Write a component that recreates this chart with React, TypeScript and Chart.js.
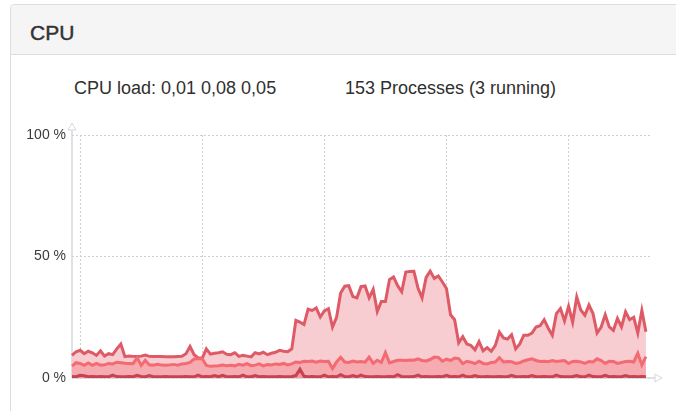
import React, { useEffect, useRef } from 'react';
import { Chart, registerables } from 'chart.js';

Chart.register(...registerables);

const PANEL_TITLE = 'CPU';
const LOAD_AVG = ['0,01', '0,08', '0,05'];
const PROCESS_COUNT = 153;
const RUNNING_COUNT = 3;
const Y_TICKS = [0, 50, 100];

// Stacked levels (cumulative %), one sample every 2 s
const LEVEL_BOTTOM = [
  0.6, 0.5, 1.1, 0.9, 0.5, 0.6, 0.5, 0.6, 0.5, 0.5,
  1.2, 0.6, 0.5, 0.5, 0.6, 0.5, 1.1, 0.6, 0.5, 1.0,
  0.5, 0.5, 0.5, 0.6, 0.5, 0.5, 0.5, 0.5, 0.6, 0.5,
  0.5, 1.2, 0.5, 0.6, 0.5, 1.0, 0.5, 1.1, 0.5, 0.5,
  0.6, 0.5, 1.2, 0.5, 0.5, 1.0, 0.5, 0.6, 0.5, 0.5,
  0.5, 0.6, 0.5, 0.5, 0.6, 1.0, 3.6, 0.7, 0.5, 0.6,
  0.5, 0.5, 1.2, 0.5, 0.6, 0.5, 1.4, 0.6, 0.5, 1.0,
  0.5, 1.2, 0.6, 0.5, 0.5, 0.6, 0.5, 0.5, 0.6, 0.5,
  1.4, 0.6, 0.5, 0.5, 0.6, 1.2, 0.5, 0.6, 0.5, 0.5,
  0.6, 0.5, 1.1, 0.5, 0.6, 0.5, 1.2, 0.5, 0.5, 1.0,
  0.5, 0.5, 0.6, 0.5, 0.5, 0.6, 0.5, 0.5, 1.1, 0.5,
  0.5, 0.6, 0.5, 1.0, 0.5, 0.5, 0.6, 0.5, 0.5, 1.2,
  0.6, 0.5, 0.5, 0.6, 1.0, 0.5, 0.5, 1.2, 0.6, 0.5,
  0.5, 1.1, 0.5, 0.6, 0.5, 0.5, 1.0, 0.5, 0.6, 0.5,
  0.6, 0.5,
];

const LEVEL_MIDDLE = [
  4.9, 6.3, 6.0, 5.2, 6.2, 5.2, 6.0, 5.3, 5.4, 6.0,
  5.8, 6.5, 6.3, 6.1, 6.0, 5.9, 8.4, 5.2, 7.3, 5.4,
  5.3, 5.6, 5.3, 5.2, 5.4, 5.6, 5.3, 5.8, 6.0, 6.4,
  7.8, 7.9, 7.9, 5.2, 4.8, 4.9, 5.0, 5.3, 5.0, 5.2,
  5.0, 5.6, 5.3, 5.9, 5.1, 5.3, 5.8, 5.0, 5.5, 5.4,
  5.8, 5.6, 6.0, 5.4, 5.8, 6.6, 6.4, 6.9, 6.8, 7.0,
  6.5, 7.0, 6.8, 6.9, 3.9, 6.6, 8.5, 6.6, 6.4, 7.0,
  6.6, 6.8, 6.5, 8.6, 6.0, 7.3, 6.4, 10.5, 6.2, 6.8,
  7.3, 7.3, 7.2, 7.4, 7.3, 7.9, 7.2, 7.0, 7.6, 8.6,
  8.5, 6.9, 7.8, 7.2, 8.2, 8.0, 5.9, 6.9, 6.5, 5.9,
  6.9, 6.0, 5.8, 6.4, 6.6, 8.4, 6.6, 6.8, 6.7, 6.0,
  6.3, 7.0, 7.5, 7.9, 7.2, 6.8, 6.9, 6.7, 7.2, 6.8,
  7.0, 7.2, 6.0, 6.8, 6.9, 6.6, 6.0, 6.8, 6.6, 7.9,
  7.2, 6.0, 6.9, 6.8, 6.0, 6.4, 6.8, 6.9, 6.6, 10.2,
  5.4, 8.8,
];

const LEVEL_TOP = [
  9.3, 10.8, 11.4, 10.0, 11.0, 10.4, 9.3, 11.2, 9.0, 10.0,
  9.6, 12.0, 14.0, 8.8, 9.0, 8.9, 8.8, 9.0, 9.4, 8.9,
  8.8, 8.8, 8.8, 8.7, 8.7, 8.7, 8.8, 8.9, 10.0, 13.0,
  9.6, 8.3, 8.2, 12.0, 9.8, 10.2, 10.4, 10.8, 9.8, 9.6,
  10.4, 8.9, 9.3, 9.0, 8.7, 10.4, 9.9, 10.6, 9.6, 10.2,
  10.6, 11.4, 11.0, 10.8, 12.0, 23.7, 23.0, 22.0, 28.3, 27.8,
  28.8, 25.1, 27.6, 28.5, 21.0, 25.0, 35.0, 37.8, 38.0, 33.5,
  33.0, 37.6, 37.9, 33.0, 36.5, 27.4, 31.5, 31.5, 40.5, 41.6,
  38.0, 35.5, 43.6, 43.8, 43.9, 37.0, 33.0, 41.4, 44.0, 41.0,
  42.0, 39.5, 36.8, 26.0, 24.0, 14.5, 17.0, 14.0, 13.4, 11.6,
  15.0, 11.2, 12.5, 11.0, 13.4, 18.9, 16.5, 16.0, 17.8, 12.0,
  14.0, 17.6, 17.6, 18.5, 21.0, 21.5, 24.0, 20.5, 17.6, 26.5,
  28.6, 23.5, 29.5, 23.0, 33.3, 28.0, 25.8, 30.0, 26.5, 18.5,
  21.0, 26.0, 21.0, 19.6, 24.5, 21.0, 27.2, 24.0, 25.0, 18.5,
  27.8, 19.0,
];

// sample clock times (one extra slot after the last sample)
const START_SECONDS = 10 * 3600 + 15 * 60 + 56;
const SAMPLE_STEP = 2;
const pad = (n: number) => String(n).padStart(2, '0');
const LABELS = Array.from({ length: LEVEL_TOP.length + 1 }, (_, i) => {
  const t = START_SECONDS + i * SAMPLE_STEP;
  return `${pad(Math.floor(t / 3600))}:${pad(Math.floor(t / 60) % 60)}:${pad(t % 60)}`;
});

const FONT = '"Liberation Sans", Arial, Helvetica, sans-serif';

const axisArrows = {
  id: 'axisArrows',
  beforeDatasetsDraw(chart: any) {
    const { ctx, chartArea } = chart;
    const { left, right, top, bottom } = chartArea;
    ctx.save();
    ctx.strokeStyle = '#d3d8de';
    ctx.lineWidth = 1.5;
    ctx.beginPath();
    ctx.moveTo(left, bottom);
    ctx.lineTo(left, top - 6);
    ctx.moveTo(left, bottom);
    ctx.lineTo(right + 5, bottom);
    ctx.stroke();
    ctx.fillStyle = '#fff';
    ctx.lineWidth = 1;
    ctx.beginPath();
    ctx.moveTo(left, top - 12);
    ctx.lineTo(left + 4, top - 5);
    ctx.lineTo(left - 4, top - 5);
    ctx.closePath();
    ctx.fill();
    ctx.stroke();
    ctx.beginPath();
    ctx.moveTo(right + 12, bottom);
    ctx.lineTo(right + 5, bottom - 4);
    ctx.lineTo(right + 5, bottom + 4);
    ctx.closePath();
    ctx.fill();
    ctx.stroke();
    ctx.restore();
  },
};

function CpuChart() {
  const ref = useRef<HTMLCanvasElement>(null);
  useEffect(() => {
    if (!ref.current) return;
    const chart = new Chart(ref.current, {
      type: 'line',
      data: {
        labels: LABELS,
        datasets: [
          {
            data: LEVEL_BOTTOM,
            borderColor: '#c8434f',
            backgroundColor: '#f29aa1',
            fill: 'origin',
            borderWidth: 3,
          },
          {
            data: LEVEL_MIDDLE,
            borderColor: '#f36a72',
            backgroundColor: '#f6abb0',
            fill: '-1',
            borderWidth: 3,
          },
          {
            data: LEVEL_TOP,
            borderColor: '#dd5a66',
            backgroundColor: '#f7cdd1',
            fill: '-1',
            borderWidth: 3,
          },
        ],
      },
      options: {
        animation: false,
        responsive: false,
        maintainAspectRatio: false,
        layout: { padding: { left: 0, top: 135, right: 26, bottom: 33 } },
        plugins: { legend: { display: false }, tooltip: { enabled: false } },
        elements: { point: { radius: 0 }, line: { tension: 0 } },
        scales: {
          x: {
            type: 'category',
            offset: false,
            ticks: { display: false },
            grid: {
              drawTicks: false,
              lineWidth: 1,
              color: (ctx: any) =>
                (LABELS[ctx.index] || '').endsWith(':00') ? '#cfcfcf' : 'rgba(0,0,0,0)',
            },
            border: { display: false, dash: [2, 2] },
            afterFit: (s: any) => {
              s.height = 0;
            },
          },
          y: {
            min: 0,
            max: 100,
            afterBuildTicks: (s: any) => {
              s.ticks = Y_TICKS.map((v) => ({ value: v }));
            },
            ticks: {
              callback: (v: any) => `${v} %`,
              font: { family: FONT, size: 14 },
              color: '#3a3a3a',
              padding: 6,
            },
            grid: { drawTicks: false, color: '#cfcfcf', lineWidth: 1 },
            border: { display: false, dash: [2, 2] },
            afterFit: (s: any) => {
              s.width = 72;
            },
          },
        },
      },
      plugins: [axisArrows],
    } as any);
    return () => chart.destroy();
  }, []);
  return (
    <canvas
      ref={ref}
      width={676}
      height={411}
      style={{ position: 'absolute', left: 0, top: 0, width: 676, height: 411 }}
    />
  );
}

export default function App() {
  return (
    <div
      style={{
        position: 'fixed',
        left: 0,
        top: 0,
        width: 676,
        height: 411,
        background: '#fff',
        overflow: 'hidden',
        fontFamily: FONT,
        color: '#333',
      }}
    >
      <div
        style={{
          position: 'absolute',
          left: 10,
          top: 4,
          width: 740,
          height: 480,
          border: '1px solid #dddddd',
          borderRadius: 4,
          background: '#fff',
        }}
      >
        <div
          style={{
            height: 49,
            background: '#f5f5f5',
            borderBottom: '1px solid #dddddd',
            borderTopLeftRadius: 4,
          }}
        />
      </div>
      <div
        style={{
          position: 'absolute',
          left: 30,
          top: 22,
          fontSize: 21,
          lineHeight: '21px',
          whiteSpace: 'nowrap',
          color: '#333',
          WebkitTextStroke: '0.45px #333',
        }}
      >
        {PANEL_TITLE}
      </div>
      <div
        style={{
          position: 'absolute',
          left: 74,
          top: 79,
          fontSize: 18,
          lineHeight: '18px',
          whiteSpace: 'nowrap',
          color: '#2f2f2f',
        }}
      >
        {`CPU load: ${LOAD_AVG.join(' ')}`}
      </div>
      <div
        style={{
          position: 'absolute',
          left: 345,
          top: 79,
          fontSize: 18,
          lineHeight: '18px',
          whiteSpace: 'nowrap',
          color: '#2f2f2f',
        }}
      >
        {`${PROCESS_COUNT} Processes (${RUNNING_COUNT} running)`}
      </div>
      <CpuChart />
    </div>
  );
}
